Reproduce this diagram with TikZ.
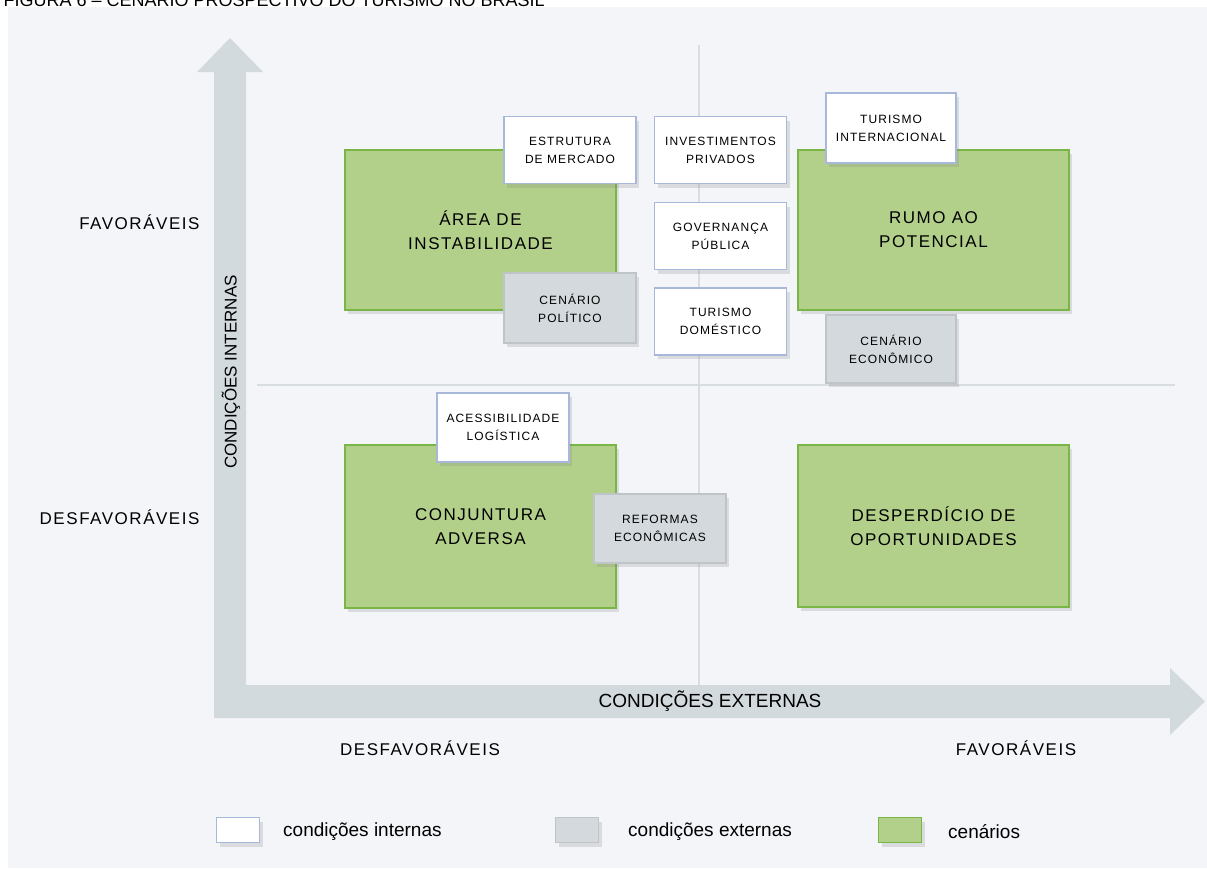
\documentclass[tikz,border=0pt]{standalone}
\usepackage{fontspec}
\setmainfont{Liberation Sans}
\newfontfamily\capfont[LetterSpace=9]{Liberation Sans}
\usetikzlibrary{shadows}
\definecolor{fundo}{HTML}{F4F5F9}
\definecolor{seta}{HTML}{D3DADD}
\definecolor{linha}{HTML}{D8DDE1}
\definecolor{verde}{HTML}{B3D08B}
\definecolor{verdeborda}{HTML}{7AB547}
\definecolor{azulborda}{HTML}{A8B8DA}
\definecolor{cinza}{HTML}{D3D9DD}
\definecolor{cinzaborda}{HTML}{BFC4C6}
\pgfdeclarelayer{edgelayer}
\pgfdeclarelayer{nodelayer}
\pgfsetlayers{edgelayer,nodelayer,main}
\tikzstyle{sombra}=[drop shadow={shadow xshift=3pt,shadow yshift=-4pt,opacity=.22}]
\tikzstyle{cenario}=[draw=verdeborda, fill=verde, line width=1.5pt, minimum width=271pt, minimum height=160pt, inner sep=0pt, align=center, font=\capfont\fontsize{17}{24}\selectfont, sombra]
\tikzstyle{interna}=[draw=azulborda, fill=white, line width=1.2pt, minimum width=132pt, minimum height=67pt, inner sep=0pt, align=center, font=\capfont\fontsize{12}{18}\selectfont, sombra]
\tikzstyle{externa}=[interna, draw=cinzaborda, fill=cinza]
\tikzstyle{amostra}=[minimum width=43pt, minimum height=25pt, inner sep=0pt, line width=1.2pt, sombra]
\tikzstyle{rotulo}=[font=\capfont\fontsize{17}{20}\selectfont]
\tikzstyle{legenda}=[anchor=west, inner sep=0pt, font=\fontsize{19}{22}\selectfont]

\begin{document}
\begin{tikzpicture}[x=1pt,y=-1pt]
				\useasboundingbox (0,0) rectangle (1207,868);
				\clip (0,0) rectangle (1207,868);
				\begin{pgfonlayer}{edgelayer}
					\fill [fundo] (8,7) rectangle (1207,868);
					\fill [seta] (214,718) -- (214,72) -- (197,72) -- (230,38) -- (263,72) -- (246,72)
						-- (246,685) -- (1170,685) -- (1170,668) -- (1205,701.5) -- (1170,735) -- (1170,718) -- cycle;
					\draw [draw=linha, line width=1.5pt] (699,45) -- (699,685);
					\draw [draw=linha, line width=1.5pt] (257,385) -- (1175,385);
				\end{pgfonlayer}
				\begin{pgfonlayer}{nodelayer}
					\node [style=cenario] (1) at (480.5,230) {ÁREA DE\\INSTABILIDADE};
					\node [style=cenario] (2) at (933.5,230) {RUMO AO\\POTENCIAL};
					\node [style=cenario, minimum height=163pt] (3) at (480.5,526.5) {CONJUNTURA\\ADVERSA};
					\node [style=cenario, minimum height=162pt] (4) at (933.5,526) {DESPERDÍCIO DE\\OPORTUNIDADES};
					\node [style=interna] (5) at (570,150) {ESTRUTURA\\DE MERCADO};
					\node [style=interna] (6) at (720.5,150) {INVESTIMENTOS\\PRIVADOS};
					\node [style=interna, minimum width=130pt, minimum height=70pt] (7) at (891,128) {TURISMO\\INTERNACIONAL};
					\node [style=interna] (8) at (720.5,236) {GOVERNANÇA\\PÚBLICA};
					\node [style=externa, minimum height=70pt] (9) at (570,308) {CENÁRIO\\POLÍTICO};
					\node [style=interna] (10) at (720.5,321.5) {TURISMO\\DOMÉSTICO};
					\node [style=externa, minimum width=130pt, minimum height=68pt] (11) at (891,349) {CENÁRIO\\ECONÔMICO};
					\node [style=interna, minimum height=69pt] (12) at (503,427.5) {ACESSIBILIDADE\\LOGÍSTICA};
					\node [style=externa, minimum height=69pt] (13) at (660,528.5) {REFORMAS\\ECONÔMICAS};
					\node [style=amostra, draw=azulborda, fill=white] (14) at (238,830) {};
					\node [style=amostra, draw=cinzaborda, fill=cinza] (15) at (577,830) {};
					\node [style=amostra, draw=verdeborda, fill=verde] (16) at (900,830) {};
				\end{pgfonlayer}
				\node [anchor=base west, font=\fontsize{18}{20}\selectfont] (17) at (0,6) {FIGURA 6 – CENÁRIO PROSPECTIVO DO TURISMO NO BRASIL};
				\node [style=rotulo, anchor=east] (18) at (203,222) {FAVORÁVEIS};
				\node [style=rotulo, anchor=east] (19) at (203,517) {DESFAVORÁVEIS};
				\node [style=rotulo] (20) at (420,748) {DESFAVORÁVEIS};
				\node [style=rotulo] (21) at (1016,748) {FAVORÁVEIS};
				\node [rotate=90, font=\fontsize{17}{20}\selectfont] (22) at (231,372) {CONDIÇÕES INTERNAS};
				\node [font=\fontsize{19}{22}\selectfont] (23) at (710,701.5) {CONDIÇÕES EXTERNAS};
				\node [style=legenda] (24) at (283,832) {condições internas};
				\node [style=legenda] (25) at (628,832) {condições externas};
				\node [style=legenda] (26) at (948,832) {cenários};
			\end{tikzpicture}
\end{document}
